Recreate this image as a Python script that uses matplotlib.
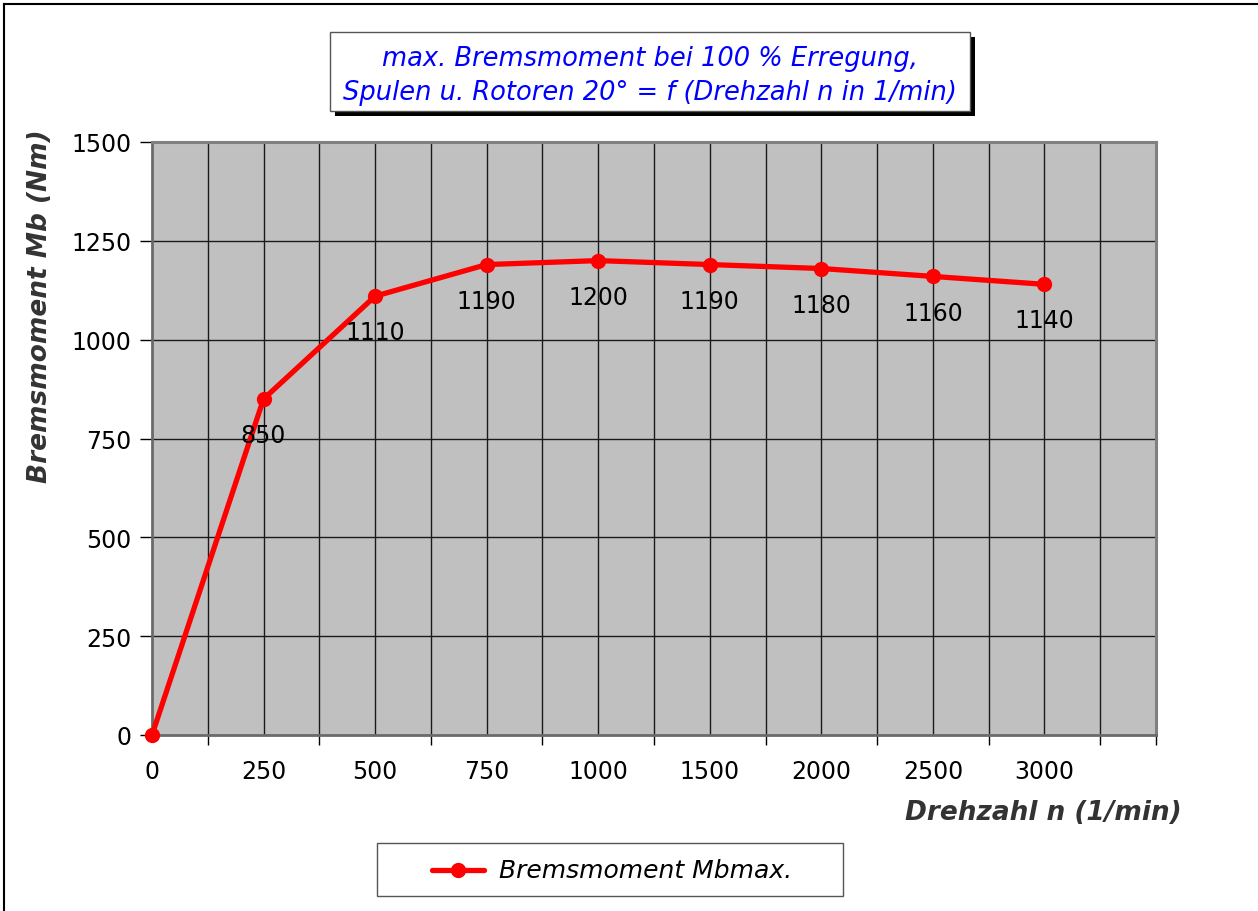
import matplotlib
matplotlib.use("Agg")
import matplotlib.pyplot as plt
from matplotlib.patches import Rectangle
from matplotlib.lines import Line2D
import numpy as np

categories = ["0", "250", "500", "750", "1000", "1500", "2000", "2500", "3000"]
values = [0, 850, 1110, 1190, 1200, 1190, 1180, 1160, 1140]
label_texts = ["", "850", "1110", "1190", "1200", "1190", "1180", "1160", "1140"]
yticks = [0, 250, 500, 750, 1000, 1250, 1500]

W, H = 1258, 912
fig = plt.figure(figsize=(W / 100, H / 100), dpi=100)
fig.patch.set_facecolor("white")

def fx(px):
    return px / W

def fy(py):
    return 1 - py / H

# outer chart border (left and top visible)
fig.add_artist(Line2D([fx(4), fx(4)], [fy(5), fy(912)], color="black", lw=1.5, transform=fig.transFigure))
fig.add_artist(Line2D([fx(4), fx(1258)], [fy(5), fy(5)], color="black", lw=1.5, transform=fig.transFigure))

ax = fig.add_axes([fx(152), fy(736), fx(1156) - fx(152), fy(143) - fy(736)])
ax.set_facecolor("#C0C0C0")

x = np.arange(len(categories))
ax.set_xlim(0, 9)
ax.set_ylim(0, 1500)

# grid
for gx in np.arange(0.5, 9.0, 0.5):
    ax.axvline(gx, color="#1a1a1a", lw=1.0, zorder=1)
for gy in yticks[1:-1]:
    ax.axhline(gy, color="#1a1a1a", lw=1.0, zorder=1)

ax.plot(x, values, color="#FF0000", lw=3.8, marker="o", markersize=10,
        zorder=3, clip_on=False, solid_capstyle="round",
        label="Bremsmoment Mbmax.")

for xi, v, t in zip(x, values, label_texts):
    if t:
        ax.annotate(t, (xi, v), xytext=(0, -26), textcoords="offset points",
                    ha="center", va="center", fontsize=17, color="black", zorder=4)

# spines
for s in ["top", "right"]:
    ax.spines[s].set_color("#808080")
    ax.spines[s].set_linewidth(2.2)
for s in ["left", "bottom"]:
    ax.spines[s].set_color("#6a6a6a")
    ax.spines[s].set_linewidth(2.0)

ax.set_yticks(yticks)
ax.set_yticklabels([str(v) for v in yticks])
ax.tick_params(axis="y", direction="out", length=9, width=1, color="black",
               labelsize=17, pad=6)

ax.set_xticks(list(np.arange(0.5, 9.0, 1.0)) + [9])
ax.set_xticklabels([])
ax.tick_params(axis="x", direction="out", length=7, width=1, color="black")
for xi, c in zip(x, categories):
    ax.text(xi, -0.06, c, transform=ax.get_xaxis_transform(), ha="center",
            va="center", fontsize=17, color="black")

# axis titles
fig.text(fx(40), fy(306), "Bremsmoment Mb (Nm)", rotation=90, ha="center", va="center",
         fontsize=19, fontweight="bold", fontstyle="italic", color="#333333")
fig.text(fx(1182), fy(813), "Drehzahl n (1/min)", ha="right", va="center",
         fontsize=19, fontweight="bold", fontstyle="italic", color="#333333")

# title box with shadow
fig.add_artist(Rectangle((fx(335), fy(117)), fx(975) - fx(335), fy(38) - fy(117),
                         transform=fig.transFigure, facecolor="black", edgecolor="none"))
fig.add_artist(Rectangle((fx(330), fy(112)), fx(970) - fx(330), fy(33) - fy(112),
                         transform=fig.transFigure, facecolor="white", edgecolor="#555555", lw=1))
fig.text(fx(650), fy(59), "max. Bremsmoment bei 100 % Erregung,", ha="center", va="center",
         fontsize=18.5, fontstyle="italic", color="#0000FF")
fig.text(fx(650), fy(93), "Spulen u. Rotoren 20° = f (Drehzahl n in 1/min)", ha="center", va="center",
         fontsize=18.5, fontstyle="italic", color="#0000FF")

# legend box
fig.add_artist(Rectangle((fx(377), fy(897)), fx(843) - fx(377), fy(844) - fy(897),
                         transform=fig.transFigure, facecolor="white", edgecolor="#555555", lw=1))
fig.add_artist(Line2D([fx(432), fx(484)], [fy(871), fy(871)], color="#FF0000", lw=3.8,
                      transform=fig.transFigure, solid_capstyle="round"))
fig.add_artist(Line2D([fx(458)], [fy(871)], color="#FF0000", marker="o", markersize=10,
                      transform=fig.transFigure))
fig.text(fx(499), fy(871), "Bremsmoment Mbmax.", ha="left", va="center",
         fontsize=18, fontstyle="italic", color="black")

fig.savefig("out.png", dpi=100)
